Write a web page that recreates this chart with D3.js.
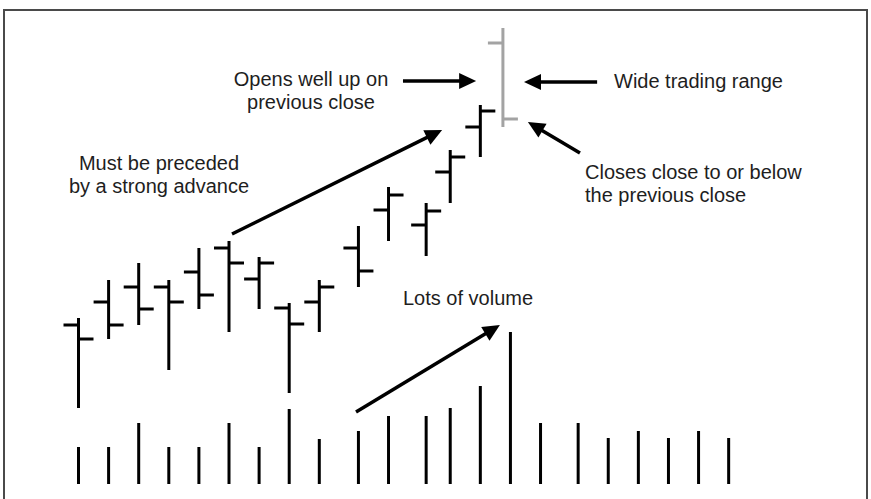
<!DOCTYPE html>
<html>
<head>
<meta charset="utf-8">
<script src="https://cdn.jsdelivr.net/npm/d3@7/dist/d3.min.js"></script>
<style>
  html, body { margin: 0; padding: 0; background: #fff; }
  svg { display: block; }
  text { font-family: "Liberation Sans", Arial, Helvetica, sans-serif; font-size: 20px; fill: #1e1e1e; }
</style>
</head>
<body>
<svg id="chart" width="871" height="499"></svg>
<script>
// Price bars: session slot (x position in trading days), high, low, open, close
const priceSlots = [0, 1, 2, 3, 4, 5, 6, 7, 8, 9.3, 10.3, 11.55, 12.35, 13.35, 14.1];
const highs  = [33, 42.5, 46.75, 42.5, 50.5, 52.25, 48.25, 36.75, 42.5, 56, 65.75, 61.75, 75, 86.25, 105.5];
const lows   = [10.5, 27.75, 31.25, 20, 35.25, 29.5, 35.25, 14.25, 29.5, 40.75, 52.25, 48.5, 61.75, 73.25, 80.75];
const opens  = [31.25, 37, 40.75, 40.75, 44.5, 50.5, 42.75, 35.5, 37, 50.5, 60, 56.25, 69.5, 80.75, 101.75];
const closes = [27.75, 31.25, 35.25, 37, 38.75, 46.75, 46.75, 31.5, 40.75, 44.75, 63.75, 59.75, 73.25, 84.75, 82.75];
// The last session is the reversal bar, drawn in grey
const reversalIndex = 14;

// Volume bars
const volumeSlots = [0, 1, 2, 3, 4, 5, 6, 7, 8, 9.3, 10.3, 11.55, 12.35, 13.35, 14.35,
                     15.35, 16.6, 17.6, 18.6, 19.6, 20.6, 21.6];
const volumes = [37, 37, 61, 37, 37, 61, 37, 75, 45, 53, 68, 68, 76, 98, 152,
                 61, 61, 46, 53, 46, 53, 46];

// Annotation arrows, in data space: [slot, value] from tail to tip
const priceArrows = [
  [[10.78, 92.25], [13.21, 92.25]],   // opens well up
  [[17.23, 92],    [14.8, 92]],       // wide trading range
  [[16.66, 74.25], [14.93, 82]],      // closes near previous close
  [[5.1, 54],      [12.08, 80]]       // strong advance
];
const volumeArrows = [
  [[9.22, 72], [14.0, 159]]           // lots of volume
];

// Annotation text
const notes = [
  { lines: ["Opens well up on", "previous close"], x: 311, y: 86, anchor: "middle" },
  { lines: ["Wide trading range"], x: 614, y: 88, anchor: "start" },
  { lines: ["Closes close to or below", "the previous close"], x: 585, y: 179, anchor: "start" },
  { lines: ["Must be preceded", "by a strong advance"], x: 159, y: 170, anchor: "middle" },
  { lines: ["Lots of volume"], x: 403, y: 305, anchor: "start" }
];

const svg = d3.select("#chart");
const W = 871, H = 499;

const x = d3.scaleLinear().domain([0, 22]).range([78.5, 78.5 + 30.1 * 22]);
const yPrice = d3.scaleLinear().domain([0, 100]).range([450, 50]);
const yVol = d3.scaleLinear().domain([0, 160]).range([484, 324]);

// frame (open at the bottom)
svg.append("path")
  .attr("d", `M4,${H} V10 H867 V${H}`)
  .attr("fill", "none")
  .attr("stroke", "#4a4a4a")
  .attr("stroke-width", 2);

const bars = priceSlots.map((s, i) => ({
  slot: s, high: highs[i], low: lows[i], open: opens[i], close: closes[i], i
}));

const tick = 15;
const barG = svg.append("g").attr("class", "ohlc");
const bar = barG.selectAll("g").data(bars).join("g")
  .attr("stroke", d => d.i === reversalIndex ? "#a3a3a3" : "#000")
  .attr("stroke-width", 3);

bar.append("line")
  .attr("x1", d => x(d.slot)).attr("x2", d => x(d.slot))
  .attr("y1", d => yPrice(d.high)).attr("y2", d => yPrice(d.low));
bar.append("line")
  .attr("x1", d => x(d.slot) - tick).attr("x2", d => x(d.slot))
  .attr("y1", d => yPrice(d.open)).attr("y2", d => yPrice(d.open));
bar.append("line")
  .attr("x1", d => x(d.slot)).attr("x2", d => x(d.slot) + tick)
  .attr("y1", d => yPrice(d.close)).attr("y2", d => yPrice(d.close));

// volume
svg.append("g").attr("class", "volume")
  .selectAll("line").data(volumeSlots.map((s, i) => ({ slot: s, v: volumes[i] })))
  .join("line")
  .attr("x1", d => x(d.slot)).attr("x2", d => x(d.slot))
  .attr("y1", d => yVol(0)).attr("y2", d => yVol(d.v))
  .attr("stroke", "#000").attr("stroke-width", 3);

// arrows
function drawArrow(g, x1, y1, x2, y2) {
  const headLen = 17, headHalf = 8;
  const dx = x2 - x1, dy = y2 - y1, len = Math.hypot(dx, dy);
  const ux = dx / len, uy = dy / len;
  const bx = x2 - ux * headLen, by = y2 - uy * headLen;
  g.append("line")
    .attr("x1", x1).attr("y1", y1)
    .attr("x2", bx + ux * 2).attr("y2", by + uy * 2)
    .attr("stroke", "#000").attr("stroke-width", 3.5);
  g.append("path")
    .attr("d", `M${x2},${y2} L${bx - uy * headHalf},${by + ux * headHalf} L${bx + uy * headHalf},${by - ux * headHalf} Z`)
    .attr("fill", "#000");
}
const arrowG = svg.append("g").attr("class", "arrows");
priceArrows.forEach(([a, b]) => drawArrow(arrowG, x(a[0]), yPrice(a[1]), x(b[0]), yPrice(b[1])));
volumeArrows.forEach(([a, b]) => drawArrow(arrowG, x(a[0]), yVol(a[1]), x(b[0]), yVol(b[1])));

// labels
const noteG = svg.append("g").attr("class", "notes");
notes.forEach(n => {
  const t = noteG.append("text")
    .attr("x", n.x).attr("y", n.y)
    .attr("text-anchor", n.anchor);
  n.lines.forEach((line, k) => {
    t.append("tspan").attr("x", n.x).attr("dy", k === 0 ? 0 : 23).text(line);
  });
});
</script>
</body>
</html>
